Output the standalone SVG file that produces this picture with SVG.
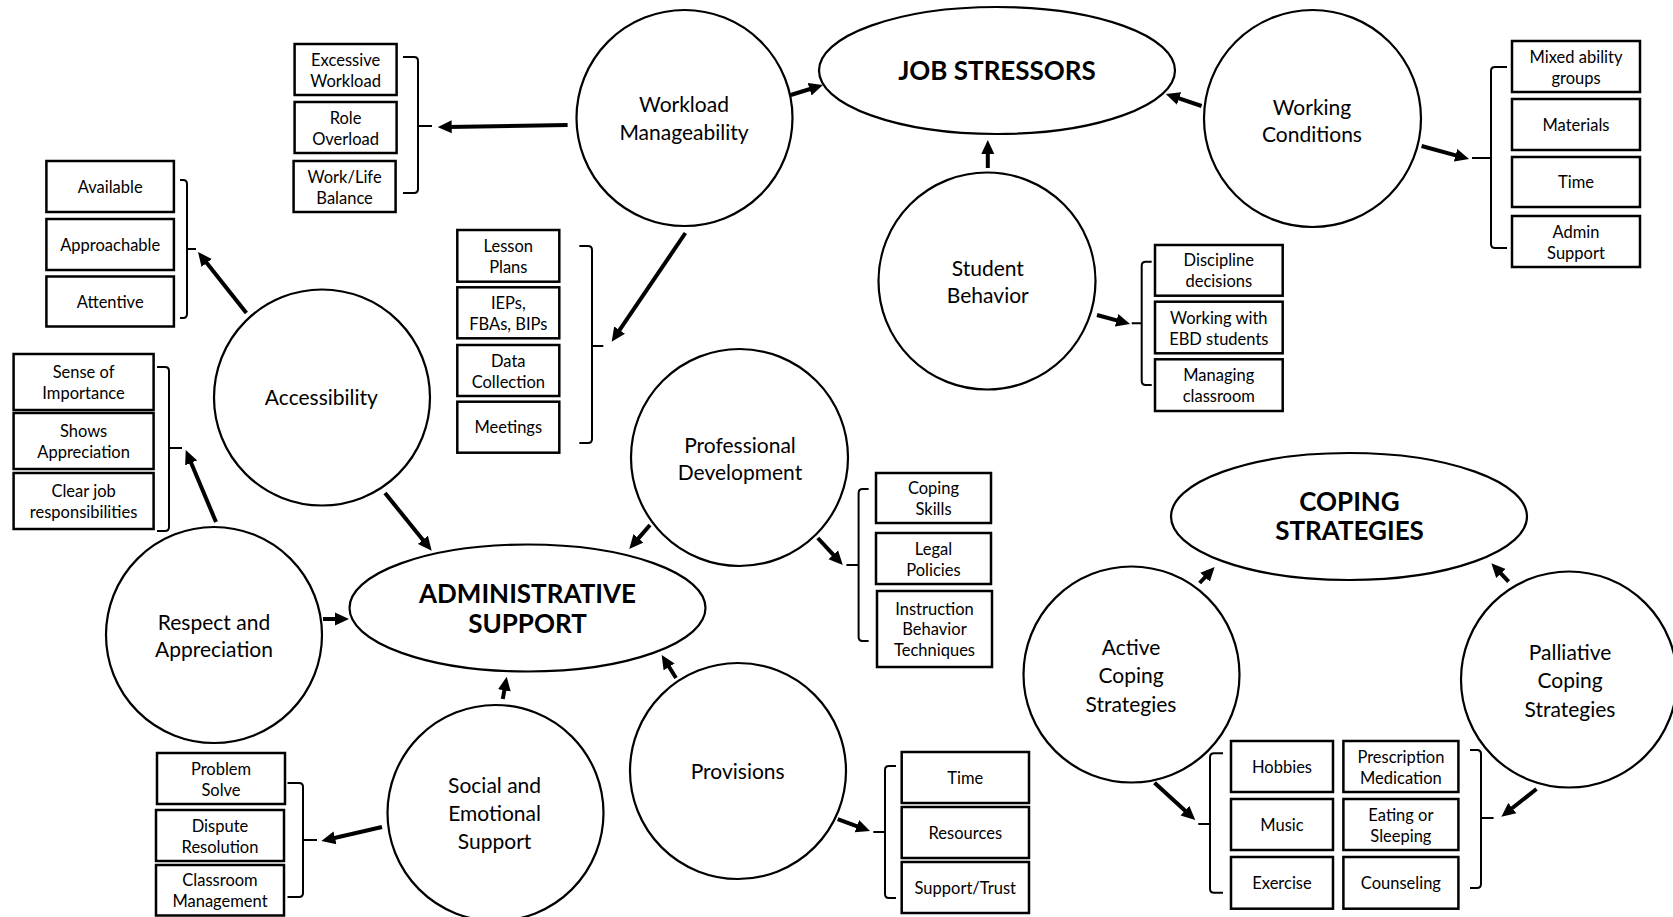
<svg xmlns="http://www.w3.org/2000/svg" width="1673" height="917" viewBox="0 0 1673 917">
  <defs>
    <marker id="ah" markerUnits="userSpaceOnUse" markerWidth="14" markerHeight="14" viewBox="0 0 14 14" refX="4" refY="7" orient="auto">
      <path d="M0,0.5 L14,7 L0,13.5 z" fill="#000"/>
    </marker>
    <style>
      .circle { fill: #fff; stroke: #000; stroke-width: 2.2; }
      .hub { fill: #fff; stroke: #000; stroke-width: 2.2; }
      .box { fill: #fff; stroke: #000; stroke-width: 2.5; }
      .brace { fill: none; stroke: #000; stroke-width: 2; }
      .arrow { fill: none; stroke: #000; stroke-width: 4; marker-end: url(#ah); }
      text { font-family: "Lato", "Open Sans", sans-serif; fill: #000; text-anchor: middle; }
      .bt { font-size: 16.5px; }
      .ct { font-size: 21px; }
      .ht { font-size: 26px; font-weight: bold; }
    </style>
  </defs>
  <rect width="1673" height="917" fill="#fff"/>

  <!-- connectors: arrows and group braces -->
  <g id="connectors">
    <path class="arrow" d="M567.6,125 L447.7,126.9"/>
    <path class="arrow" d="M790.7,95 L813.4,88"/>
    <path class="arrow" d="M685.4,233 L617.3,333.4"/>
    <path class="arrow" d="M1201.6,106 L1175.3,97.2"/>
    <path class="arrow" d="M1421.6,146 L1459.4,156.4"/>
    <path class="arrow" d="M987.8,168 L987.8,150"/>
    <path class="arrow" d="M1097,315 L1120.4,321.4"/>
    <path class="arrow" d="M246.4,313 L204.2,259.8"/>
    <path class="arrow" d="M385,493 L425.4,542.9"/>
    <path class="arrow" d="M216,522 L189.6,459.2"/>
    <path class="arrow" d="M323,619 L339,619"/>
    <path class="arrow" d="M650,525 L635.8,541.4"/>
    <path class="arrow" d="M817.8,538 L836,557.7"/>
    <path class="arrow" d="M382,827 L331.1,838.7"/>
    <path class="arrow" d="M502.8,699 L505,686.5"/>
    <path class="arrow" d="M676,678 L667,663.5"/>
    <path class="arrow" d="M837.7,819 L860.6,827.5"/>
    <path class="arrow" d="M1199.6,583 L1207.8,574.3"/>
    <path class="arrow" d="M1508.6,581.7 L1498.2,570.6"/>
    <path class="arrow" d="M1154.5,782.7 L1187.9,813.3"/>
    <path class="arrow" d="M1536.5,789 L1509.2,810.5"/>

    <!-- braces opening to the left (tick on the right) -->
    <path class="brace" d="M403,57 H414 Q418,57 418,61 V189 Q418,193 414,193 H403 M418,126 H432"/>
    <path class="brace" d="M180,180 H183 Q187,180 187,184 V314 Q187,318 183,318 H180 M187,249 H196"/>
    <path class="brace" d="M157,367 H165 Q169,367 169,371 V527 Q169,531 165,531 H157 M169,448 H182"/>
    <path class="brace" d="M287.5,783 H299 Q303,783 303,787 V893 Q303,897 299,897 H287.5 M303,840 H317"/>
    <path class="brace" d="M579.3,246 H588 Q592,246 592,250 V439 Q592,443 588,443 H579.3 M592,346 H603.3"/>
    <path class="brace" d="M1470,750 H1477 Q1481,750 1481,754 V884 Q1481,888 1477,888 H1470 M1481,818 H1493.6"/>

    <!-- braces opening to the right (tick on the left) -->
    <path class="brace" d="M1507,67 H1495 Q1491,67 1491,71 V244 Q1491,248 1495,248 H1507 M1491,158 H1472"/>
    <path class="brace" d="M1151.7,261.7 H1145.7 Q1141.7,261.7 1141.7,265.7 V381 Q1141.7,385 1145.7,385 H1151.7 M1141.7,323.3 H1131.7"/>
    <path class="brace" d="M868.6,489 H862.6 Q858.6,489 858.6,493 V637 Q858.6,641 862.6,641 H868.6 M858.6,565 H846.4"/>
    <path class="brace" d="M896,766 H889 Q885,766 885,770 V894 Q885,898 889,898 H896 M885,832 H873.3"/>
    <path class="brace" d="M1223,753.3 H1214 Q1210,753.3 1210,757.3 V888.7 Q1210,892.7 1214,892.7 H1223 M1210,824 H1198.3"/>
  </g>

  <!-- central themes -->
  <g id="job-stressors">
    <ellipse class="hub" cx="997" cy="70.5" rx="178" ry="63.5"/>
    <text class="ht" x="997" y="80">JOB STRESSORS</text>
  </g>
  <g id="administrative-support">
    <ellipse class="hub" cx="527.5" cy="608" rx="178" ry="63.5"/>
    <text class="ht" x="527.5" y="602.7">ADMINISTRATIVE</text>
    <text class="ht" x="527.5" y="632.7">SUPPORT</text>
  </g>
  <g id="coping-strategies">
    <ellipse class="hub" cx="1349" cy="516.5" rx="178" ry="63.5"/>
    <text class="ht" x="1349.5" y="511">COPING</text>
    <text class="ht" x="1349.5" y="540">STRATEGIES</text>
  </g>

  <!-- themes -->
  <g id="workload-manageability">
    <circle class="circle" cx="684.5" cy="118" r="108"/>
    <text class="ct" x="684" y="111.7">Workload</text>
    <text class="ct" x="684" y="140">Manageability</text>
  </g>
  <g id="working-conditions">
    <circle class="circle" cx="1312.5" cy="118.5" r="108.5"/>
    <text class="ct" x="1312" y="115">Working</text>
    <text class="ct" x="1312" y="141.7">Conditions</text>
  </g>
  <g id="student-behavior">
    <circle class="circle" cx="987" cy="281" r="108.5"/>
    <text class="ct" x="987.8" y="276">Student</text>
    <text class="ct" x="987.8" y="303.3">Behavior</text>
  </g>
  <g id="accessibility">
    <circle class="circle" cx="322" cy="397.5" r="108"/>
    <text class="ct" x="321.4" y="405">Accessibility</text>
  </g>
  <g id="professional-development">
    <circle class="circle" cx="739.5" cy="457.5" r="108.5"/>
    <text class="ct" x="740" y="452.7">Professional</text>
    <text class="ct" x="740" y="480">Development</text>
  </g>
  <g id="respect-appreciation">
    <circle class="circle" cx="214" cy="635" r="108"/>
    <text class="ct" x="214" y="630">Respect and</text>
    <text class="ct" x="214" y="656.7">Appreciation</text>
  </g>
  <g id="social-emotional-support">
    <circle class="circle" cx="495.5" cy="813" r="108"/>
    <text class="ct" x="494.6" y="792.7">Social and</text>
    <text class="ct" x="494.6" y="821">Emotional</text>
    <text class="ct" x="494.6" y="849.3">Support</text>
  </g>
  <g id="provisions">
    <circle class="circle" cx="738" cy="771" r="108"/>
    <text class="ct" x="737.7" y="779.3">Provisions</text>
  </g>
  <g id="active-coping">
    <circle class="circle" cx="1131.5" cy="674.5" r="108"/>
    <text class="ct" x="1131" y="655">Active</text>
    <text class="ct" x="1131" y="683.3">Coping</text>
    <text class="ct" x="1131" y="711.7">Strategies</text>
  </g>
  <g id="palliative-coping">
    <circle class="circle" cx="1569" cy="679.5" r="108"/>
    <text class="ct" x="1570" y="660">Palliative</text>
    <text class="ct" x="1570" y="688.3">Coping</text>
    <text class="ct" x="1570" y="716.7">Strategies</text>
  </g>

  <!-- workload items -->
  <g id="excessive-workload">
    <rect class="box" x="294.6" y="44" width="102" height="51"/>
    <text class="bt" x="345.6" y="65.5">Excessive</text>
    <text class="bt" x="345.6" y="86.5">Workload</text>
  </g>
  <g id="role-overload">
    <rect class="box" x="294.6" y="102" width="102" height="51"/>
    <text class="bt" x="345.6" y="123.5">Role</text>
    <text class="bt" x="345.6" y="144.5">Overload</text>
  </g>
  <g id="work-life-balance">
    <rect class="box" x="293.6" y="161" width="102" height="51"/>
    <text class="bt" x="344.6" y="182.5">Work/Life</text>
    <text class="bt" x="344.6" y="203.5">Balance</text>
  </g>
  <g id="lesson-plans">
    <rect class="box" x="457.3" y="230" width="102" height="51.7"/>
    <text class="bt" x="508.3" y="251.8">Lesson</text>
    <text class="bt" x="508.3" y="272.8">Plans</text>
  </g>
  <g id="ieps">
    <rect class="box" x="457.3" y="287.3" width="102" height="51"/>
    <text class="bt" x="508.3" y="308.8">IEPs,</text>
    <text class="bt" x="508.3" y="329.8">FBAs, BIPs</text>
  </g>
  <g id="data-collection">
    <rect class="box" x="457.3" y="345" width="102" height="51"/>
    <text class="bt" x="508.3" y="366.5">Data</text>
    <text class="bt" x="508.3" y="387.5">Collection</text>
  </g>
  <g id="meetings">
    <rect class="box" x="457.3" y="401.7" width="102" height="51"/>
    <text class="bt" x="508.3" y="433.2">Meetings</text>
  </g>

  <!-- accessibility items -->
  <g id="available">
    <rect class="box" x="46.4" y="161" width="127.5" height="51"/>
    <text class="bt" x="110.2" y="192.5">Available</text>
  </g>
  <g id="approachable">
    <rect class="box" x="46.4" y="219" width="127.5" height="51"/>
    <text class="bt" x="110.2" y="250.5">Approachable</text>
  </g>
  <g id="attentive">
    <rect class="box" x="46.4" y="276.5" width="127.5" height="50"/>
    <text class="bt" x="110.2" y="307.5">Attentive</text>
  </g>

  <!-- respect items -->
  <g id="sense-of-importance">
    <rect class="box" x="13.6" y="354" width="140" height="56"/>
    <text class="bt" x="83.6" y="378">Sense of</text>
    <text class="bt" x="83.6" y="399">Importance</text>
  </g>
  <g id="shows-appreciation">
    <rect class="box" x="13.6" y="413" width="140" height="56"/>
    <text class="bt" x="83.6" y="437">Shows</text>
    <text class="bt" x="83.6" y="458">Appreciation</text>
  </g>
  <g id="clear-job-responsibilities">
    <rect class="box" x="13.6" y="473" width="140" height="56"/>
    <text class="bt" x="83.6" y="497">Clear job</text>
    <text class="bt" x="83.6" y="518">responsibilities</text>
  </g>

  <!-- social and emotional items -->
  <g id="problem-solve">
    <rect class="box" x="157" y="753" width="128" height="51"/>
    <text class="bt" x="221" y="774.5">Problem</text>
    <text class="bt" x="221" y="795.5">Solve</text>
  </g>
  <g id="dispute-resolution">
    <rect class="box" x="156" y="810" width="128" height="51"/>
    <text class="bt" x="220" y="831.5">Dispute</text>
    <text class="bt" x="220" y="852.5">Resolution</text>
  </g>
  <g id="classroom-management">
    <rect class="box" x="156" y="865" width="128" height="50.5"/>
    <text class="bt" x="220" y="886.3">Classroom</text>
    <text class="bt" x="220" y="907.3">Management</text>
  </g>

  <!-- provisions items -->
  <g id="prov-time">
    <rect class="box" x="901.7" y="752" width="127.3" height="51"/>
    <text class="bt" x="965.3" y="783.5">Time</text>
  </g>
  <g id="resources">
    <rect class="box" x="901.7" y="807" width="127.3" height="51"/>
    <text class="bt" x="965.3" y="838.5">Resources</text>
  </g>
  <g id="support-trust">
    <rect class="box" x="901.7" y="862" width="127.3" height="51"/>
    <text class="bt" x="965.3" y="893.5">Support/Trust</text>
  </g>

  <!-- professional development items -->
  <g id="coping-skills">
    <rect class="box" x="876" y="473" width="115" height="50"/>
    <text class="bt" x="933.5" y="494">Coping</text>
    <text class="bt" x="933.5" y="515">Skills</text>
  </g>
  <g id="legal-policies">
    <rect class="box" x="876" y="533" width="115" height="51"/>
    <text class="bt" x="933.5" y="554.5">Legal</text>
    <text class="bt" x="933.5" y="575.5">Policies</text>
  </g>
  <g id="instruction-behavior-techniques">
    <rect class="box" x="877" y="591" width="115" height="76"/>
    <text class="bt" x="934.5" y="614.5">Instruction</text>
    <text class="bt" x="934.5" y="635">Behavior</text>
    <text class="bt" x="934.5" y="655.5">Techniques</text>
  </g>

  <!-- working conditions items -->
  <g id="mixed-ability-groups">
    <rect class="box" x="1512" y="41" width="128" height="51"/>
    <text class="bt" x="1576" y="62.5">Mixed ability</text>
    <text class="bt" x="1576" y="83.5">groups</text>
  </g>
  <g id="materials">
    <rect class="box" x="1512" y="99" width="128" height="51"/>
    <text class="bt" x="1576" y="130.5">Materials</text>
  </g>
  <g id="wc-time">
    <rect class="box" x="1512" y="157" width="128" height="50"/>
    <text class="bt" x="1576" y="188">Time</text>
  </g>
  <g id="admin-support">
    <rect class="box" x="1512" y="216" width="128" height="51"/>
    <text class="bt" x="1576" y="237.5">Admin</text>
    <text class="bt" x="1576" y="258.5">Support</text>
  </g>

  <!-- student behavior items -->
  <g id="discipline-decisions">
    <rect class="box" x="1155" y="245" width="127.7" height="50.7"/>
    <text class="bt" x="1218.8" y="266.4">Discipline</text>
    <text class="bt" x="1218.8" y="287.4">decisions</text>
  </g>
  <g id="working-with-ebd">
    <rect class="box" x="1155" y="301.7" width="127.7" height="51.6"/>
    <text class="bt" x="1218.8" y="323.5">Working with</text>
    <text class="bt" x="1218.8" y="344.5">EBD students</text>
  </g>
  <g id="managing-classroom">
    <rect class="box" x="1155" y="359.3" width="127.7" height="51.7"/>
    <text class="bt" x="1218.8" y="381.1">Managing</text>
    <text class="bt" x="1218.8" y="402.1">classroom</text>
  </g>

  <!-- coping strategy items -->
  <g id="hobbies">
    <rect class="box" x="1231" y="741" width="102" height="51"/>
    <text class="bt" x="1282" y="772.5">Hobbies</text>
  </g>
  <g id="music">
    <rect class="box" x="1231" y="799" width="102" height="51"/>
    <text class="bt" x="1282" y="830.5">Music</text>
  </g>
  <g id="exercise">
    <rect class="box" x="1231" y="857" width="102" height="51.7"/>
    <text class="bt" x="1282" y="888.8">Exercise</text>
  </g>
  <g id="prescription-medication">
    <rect class="box" x="1343.4" y="741" width="115" height="51"/>
    <text class="bt" x="1400.9" y="762.5">Prescription</text>
    <text class="bt" x="1400.9" y="783.5">Medication</text>
  </g>
  <g id="eating-or-sleeping">
    <rect class="box" x="1343.4" y="799" width="115" height="51"/>
    <text class="bt" x="1400.9" y="820.5">Eating or</text>
    <text class="bt" x="1400.9" y="841.5">Sleeping</text>
  </g>
  <g id="counseling">
    <rect class="box" x="1343.4" y="857" width="115" height="51.7"/>
    <text class="bt" x="1400.9" y="888.8">Counseling</text>
  </g>
</svg>
